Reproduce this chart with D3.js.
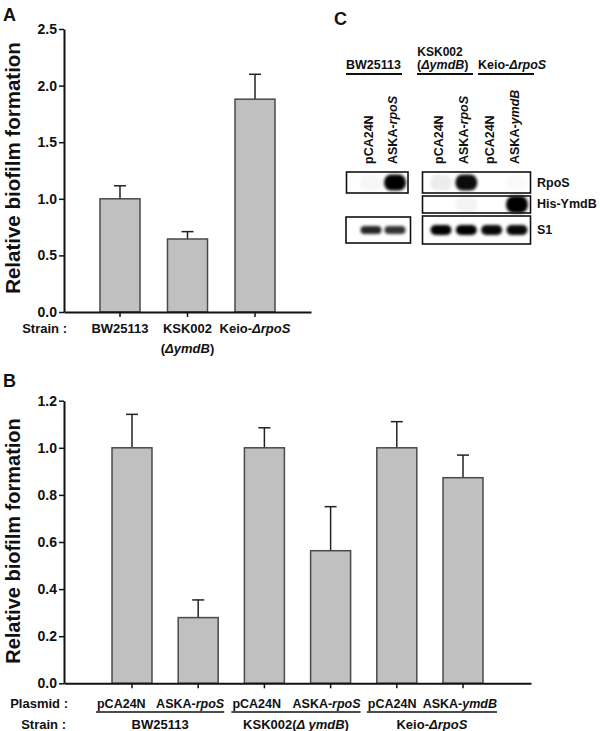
<!DOCTYPE html>
<html><head><meta charset="utf-8">
<script src="https://cdn.jsdelivr.net/npm/d3@7"></script>
<style>
html,body{margin:0;padding:0;background:#fff;}
svg text{font-family:"Liberation Sans",Arial,Helvetica,sans-serif;font-weight:bold;fill:#111;}
</style></head>
<body>
<svg id="fig" width="600" height="731"></svg>
<script>
// ---------- Data ----------
// Panel A
const strainsA = ["BW25113", "KSK002|(|ΔymdB|)", "Keio-|ΔrpoS"];
const meanA = [1.0, 0.645, 1.88];
const errA = [0.115, 0.065, 0.22];
const ticksA = [0, 0.5, 1.0, 1.5, 2.0, 2.5];

// Panel B
const plasmidsB = ["pCA24N", "ASKA-|rpoS", "pCA24N", "ASKA-|rpoS", "pCA24N", "ASKA-|ymdB"];
const strainGroupsB = ["BW25113", "KSK002(|Δ ymdB|)", "Keio-|ΔrpoS"];
const meanB = [1.0, 0.279, 1.0, 0.563, 1.0, 0.873];
const errB = [0.142, 0.075, 0.085, 0.187, 0.111, 0.096];
const ticksB = [0, 0.2, 0.4, 0.6, 0.8, 1.0, 1.2];

// Panel C (western blot)
const blotStrains = ["BW25113", "KSK002", "Keio-|ΔrpoS"];
const blotLanes = ["pCA24N", "ASKA-|rpoS", "pCA24N", "ASKA-|rpoS", "pCA24N", "ASKA-|ymdB"];
const blotRows = ["RpoS", "His-YmdB", "S1"];
const rpoSSignal = [0.03, 1.0, 0.07, 0.95, 0.0, 0.02];
const hisYmdBSignal = [null, null, 0.0, 0.04, 0.0, 1.0];
const s1Signal = [0.85, 0.8, 1.0, 1.0, 0.97, 0.97];

// ---------- Helpers ----------
const svg = d3.select("#fig");
// text with "|" toggling italic segments
function richText(sel, str) {
  str.split("|").forEach((seg, i) => {
    if (!seg) return;
    sel.append("tspan").text(seg).style("font-style", i % 2 ? "italic" : "normal");
  });
  return sel;
}
const BAR_FILL = "#c0c0c0", BAR_STROKE = "#4a4a4a", AX = "#111";

function barPanel(g, cats, means, errs, ticks, yRange, xRange, pi, po) {
  const y = d3.scaleLinear().domain([0, ticks[ticks.length - 1]]).range(yRange);
  const x = d3.scaleBand().domain(d3.range(cats.length)).range(xRange)
    .paddingInner(pi).paddingOuter(po);
  const cap = 12;
  means.forEach((m, i) => {
    const cx = x(i) + x.bandwidth() / 2;
    g.append("line").attr("x1", cx).attr("x2", cx).attr("y1", y(m)).attr("y2", y(m + errs[i]))
      .attr("stroke", "#222").attr("stroke-width", 1.5);
    g.append("line").attr("x1", cx - cap / 2).attr("x2", cx + cap / 2)
      .attr("y1", y(m + errs[i])).attr("y2", y(m + errs[i]))
      .attr("stroke", "#222").attr("stroke-width", 1.5);
  });
  g.selectAll("rect.bar").data(means).join("rect").attr("class", "bar")
    .attr("x", (d, i) => x(i)).attr("width", x.bandwidth())
    .attr("y", d => y(d)).attr("height", d => y(0) - y(d))
    .attr("fill", BAR_FILL).attr("stroke", BAR_STROKE).attr("stroke-width", 1.5);
  const xa = g.append("g").attr("transform", `translate(0,${y(0)})`)
    .call(d3.axisBottom(x).tickSize(5).tickSizeOuter(0).tickFormat(""));
  const ya = g.append("g").attr("transform", `translate(${xRange[0]},0)`)
    .call(d3.axisLeft(y).tickValues(ticks).tickSize(5).tickSizeOuter(0).tickPadding(2)
      .tickFormat(d3.format(".1f")));
  [xa, ya].forEach(a => {
    a.select(".domain").attr("stroke", AX).attr("stroke-width", 2);
    a.selectAll(".tick line").attr("stroke", AX).attr("stroke-width", 1.5);
  });
  ya.selectAll(".tick text").attr("font-size", 14).attr("font-family", null).attr("fill", "#111");
  return { x, y };
}

// ---------- Panel A ----------
const gA = svg.append("g");
const A = barPanel(gA, strainsA, meanA, errA, ticksA, [312, 29], [64, 311], 0.407, 0.533);
svg.append("text").attr("x", 3).attr("y", 21).attr("font-size", 18).text("A");
svg.append("text").attr("transform", "translate(20,168) rotate(-90)")
  .attr("text-anchor", "middle").attr("font-size", 20.5).text("Relative biofilm formation");
svg.append("text").attr("x", 67).attr("y", 333).attr("text-anchor", "end").attr("font-size", 13).text("Strain :");
strainsA.forEach((s, i) => {
  const cx = A.x(i) + A.x.bandwidth() / 2;
  const lines = s.split(/\|(?=\()/); // split first line from parenthesised second line
  richText(svg.append("text").attr("x", cx).attr("y", 333).attr("text-anchor", "middle").attr("font-size", 13), lines[0]);
  if (lines[1]) {
    richText(svg.append("text").attr("x", cx).attr("y", 353).attr("text-anchor", "middle").attr("font-size", 13), lines[1]);
  }
});

// ---------- Panel B ----------
const gB = svg.append("g");
const B = barPanel(gB, plasmidsB, meanB, errB, ticksB, [683.3, 400.7], [64, 531], 0.396, 0.725);
svg.append("text").attr("x", 3).attr("y", 387).attr("font-size", 18).text("B");
svg.append("text").attr("transform", "translate(20,541) rotate(-90)")
  .attr("text-anchor", "middle").attr("font-size", 20).text("Relative biofilm formation");
svg.append("text").attr("x", 68).attr("y", 708).attr("text-anchor", "end").attr("font-size", 13).text("Plasmid :");
svg.append("text").attr("x", 66).attr("y", 729).attr("text-anchor", "end").attr("font-size", 13).text("Strain :");
strainGroupsB.forEach((s, gi) => {
  const c1 = B.x(gi * 2) + B.x.bandwidth() / 2, c2 = B.x(gi * 2 + 1) + B.x.bandwidth() / 2;
  const x0 = c1 - 36 + gi * 3, x1 = c2 + 26 + gi * 4;
  richText(svg.append("text").attr("x", x0 + 1).attr("y", 708).attr("font-size", 12.5), plasmidsB[gi * 2]);
  richText(svg.append("text").attr("x", x1).attr("y", 708).attr("text-anchor", "end").attr("font-size", 12.5), plasmidsB[gi * 2 + 1]);
  svg.append("line").attr("x1", x0).attr("x2", x1).attr("y1", 712).attr("y2", 712)
    .attr("stroke", "#111").attr("stroke-width", 1.5);
  richText(svg.append("text").attr("x", (x0 + x1) / 2).attr("y", 729).attr("text-anchor", "middle").attr("font-size", 13), s);
});

// ---------- Panel C ----------
svg.append("text").attr("x", 334).attr("y", 25).attr("font-size", 18).text("C");
const defs = svg.append("defs");
defs.append("filter").attr("id", "blur").attr("x", "-50%").attr("y", "-50%").attr("width", "200%").attr("height", "200%")
  .append("feGaussianBlur").attr("stdDeviation", 1.6);

const laneL = d3.scalePoint().domain([0, 1]).range([371, 395]);
const laneR = d3.scalePoint().domain([2, 3, 4, 5]).range([441, 517]);
const laneX = i => (i < 2 ? laneL(i) : laneR(i));

// strain headers
const headerLeft = [346, 417, 478];
blotStrains.forEach((s, i) => {
  const x0 = headerLeft[i];
  if (i === 1) {
    svg.append("text").attr("x", x0 + 23).attr("y", 56).attr("text-anchor", "middle").attr("font-size", 12).text(s);
    richText(svg.append("text").attr("x", x0).attr("y", 69).attr("font-size", 12.5), "(|ΔymdB|)");
  } else {
    richText(svg.append("text").attr("x", x0).attr("y", 69).attr("font-size", 12.5), s);
  }
  svg.append("line").attr("x1", x0).attr("x2", x0 + 56).attr("y1", 74).attr("y2", 74)
    .attr("stroke", "#111").attr("stroke-width", 1.8);
});

// lane labels (rotated)
blotLanes.forEach((l, i) => {
  richText(svg.append("text").attr("transform", `translate(${laneX(i) + 2},164) rotate(-90)`)
    .attr("font-size", 12.5), l);
});

const boxes = [
  { row: 0, lanes: [0, 1], x0: 346.5, x1: 408, y0: 172, y1: 193 },
  { row: 0, lanes: [2, 3, 4, 5], x0: 422.5, x1: 530.5, y0: 172, y1: 193 },
  { row: 1, lanes: [2, 3, 4, 5], x0: 422.5, x1: 530.5, y0: 196, y1: 213 },
  { row: 2, lanes: [0, 1], x0: 346, x1: 410.5, y0: 217, y1: 243 },
  { row: 2, lanes: [2, 3, 4, 5], x0: 422.5, x1: 530.5, y0: 216, y1: 244 }
];
const signals = [rpoSSignal, hisYmdBSignal, s1Signal];
const bandH = [16, 17, 10];
boxes.forEach(b => {
  const gb = svg.append("g");
  const cy = (b.y0 + b.y1) / 2;
  b.lanes.forEach(i => {
    const v = signals[b.row][i];
    if (v == null || v <= 0) return;
    let h = bandH[b.row];
    if (b.row === 2 && i < 2) h = 8;
    const w = b.row === 2 ? 21 : 22;
    gb.append("rect").attr("x", laneX(i) - w / 2).attr("y", cy - h / 2)
      .attr("width", w).attr("height", h).attr("rx", Math.min(h / 2, 7)).attr("ry", h / 2)
      .attr("fill", "#000").attr("opacity", Math.min(1, v)).attr("filter", "url(#blur)");
  });
  gb.append("rect").attr("x", b.x0).attr("y", b.y0).attr("width", b.x1 - b.x0).attr("height", b.y1 - b.y0)
    .attr("fill", "none").attr("stroke", "#111").attr("stroke-width", 1.6);
});
const rowLabelY = [187, 208, 234];
blotRows.forEach((r, i) => {
  svg.append("text").attr("x", 537).attr("y", rowLabelY[i]).attr("font-size", 12.5).text(r);
});
</script>
</body></html>
